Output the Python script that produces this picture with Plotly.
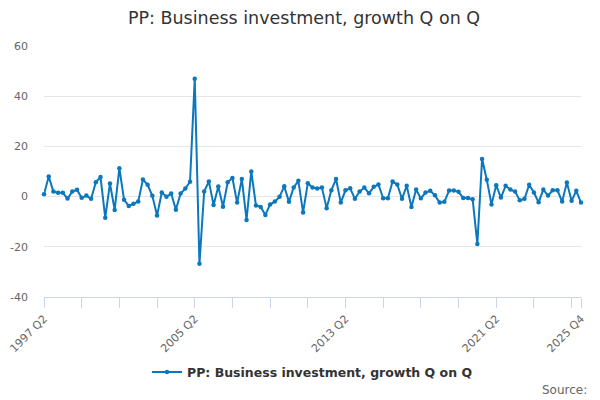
import plotly.graph_objects as go

start_year, start_q = 1997, 2
values = [
    0.9, 8.0, 2.0, 1.5, 1.5, -0.8, 2.0, 2.7, -0.5, 0.4,
    -0.9, 5.7, 7.8, -8.4, 5.2, -5.3, 11.3, -1.3, -3.7, -2.8,
    -2.0, 6.8, 4.7, 0.3, -7.5, 1.6, -0.1, 1.2, -5.2, 1.2,
    3.2, 5.9, 47.0, -26.8, 2.0, 6.0, -3.3, 4.0, -4.0, 5.7,
    7.4, -2.4, 7.0, -9.3, 10.0, -3.5, -4.1, -7.3, -3.1, -2.0,
    -0.1, 4.1, -2.1, 3.6, 6.3, -6.3, 5.3, 3.6, 3.2, 3.6,
    -4.6, 2.5, 7.0, -2.4, 2.5, 3.3, -0.9, 2.0, 3.6, 1.3,
    3.9, 4.8, -0.7, -0.7, 6.0, 4.8, -0.9, 4.3, -4.1, 2.8,
    -0.7, 1.6, 2.3, 0.5, -2.4, -2.1, 2.4, 2.4, 1.9, -0.6,
    -0.6, -1.1, -18.9, 15.0, 6.7, -3.1, 4.5, -0.4, 4.3, 2.8,
    2.0, -1.5, -0.9, 4.7, 1.6, -2.3, 2.8, 0.4, 2.5, 2.5,
    -2.0, 5.6, -1.7, 2.3, -2.4,
]
y_ticks = [-40, -20, 0, 20, 40, 60]
y_tick_labels = ["-40", "-20", "0", "20", "40", "60"]

quarters = []
y, q = start_year, start_q
for _ in values:
    quarters.append(f"{y} Q{q}")
    q += 1
    if q > 4:
        q = 1
        y += 1

label_set = {"1997 Q2", "2005 Q2", "2013 Q2", "2021 Q2", "2025 Q4"}
tick_vals = quarters[::8] + [quarters[-1]]
tick_text = [t if t in label_set else "" for t in tick_vals]

series_name = "PP: Business investment, growth Q on Q"
color = "#0b77bd"
FONT = "DejaVu Sans, Verdana, sans-serif"

fig = go.Figure()
fig.add_trace(go.Scatter(
    x=quarters, y=values, mode="lines+markers", name=series_name,
    line=dict(color=color, width=2),
    marker=dict(color=color, size=4.5),
    cliponaxis=False,
))

fig.update_layout(
    width=592, height=392,
    paper_bgcolor="white", plot_bgcolor="white",
    font=dict(family=FONT, color="#333333"),
    margin=dict(l=36, r=19, t=38, b=103, autoexpand=False),
    title=dict(text=series_name,
               x=0.5, xanchor="center", y=0.9745, yanchor="middle",
               font=dict(size=17.5, color="#333333")),
    showlegend=True,
    legend=dict(orientation="h", x=0.5, xanchor="center", y=-0.30, yanchor="middle",
                font=dict(size=12.5, color="#333333", weight="bold")),
    xaxis=dict(
        type="category", range=[0, len(values) - 1], automargin=False,
        tickmode="array", tickvals=tick_vals, ticktext=tick_text,
        tickangle=-45, ticks="outside", ticklen=10, tickcolor="#ccd6eb",
        showline=True, linecolor="#ccd6eb", linewidth=1,
        showgrid=False, zeroline=False,
        tickfont=dict(size=11, color="#666666"),
    ),
    yaxis=dict(
        range=[-40, 60], tickmode="array", tickvals=y_ticks, ticktext=y_tick_labels,
        automargin=False,
        gridcolor="#e6e6e6", gridwidth=1, zeroline=False,
        showline=False, ticks="", ticklabelstandoff=15,
        tickfont=dict(size=11, color="#666666"),
    ),
    annotations=[dict(text="Source:", xref="paper", yref="paper",
                      x=1.015, y=-0.37, xanchor="right", yanchor="middle",
                      showarrow=False, font=dict(size=12, color="#666666"))],
)

fig.write_html("out.html")
